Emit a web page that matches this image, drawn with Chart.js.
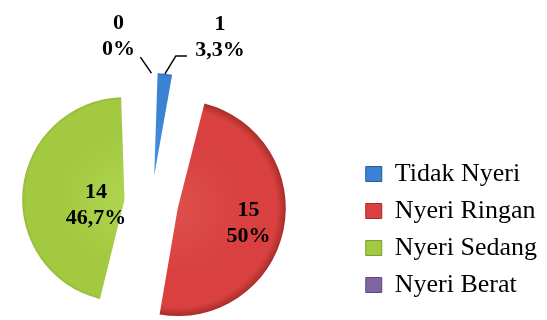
<!DOCTYPE html>
<html lang="id">
<head>
    <meta charset="UTF-8">
    <title>Tingkat Nyeri</title>
    <script src="https://cdn.jsdelivr.net/npm/chart.js"></script>
    <style>
        html, body { margin: 0; padding: 0; background: #ffffff; }
        .chart-container { width: 547px; height: 320px; position: relative; }
    </style>
</head>
<body>
    <div class="chart-container">
        <canvas id="nyeriChart"></canvas>
    </div>

    <script>
        // Data
        var categories = ['Tidak Nyeri', 'Nyeri Ringan', 'Nyeri Sedang', 'Nyeri Berat'];
        var values = [1, 15, 14, 0];

        // Warna
        var baseColors = ['#3b82d4', '#d8413f', '#a2c93f', '#8064a2'];
        var lightColors = ['#4f93e0', '#de4f4c', '#b0d452', '#9a80bb'];
        var darkColors = ['#25599c', '#a92c29', '#7a9f2a', '#5f4a7c'];

        var total = values.reduce(function (a, b) { return a + b; }, 0);

        function pctText(v) {
            var p = (v / total * 100).toFixed(1);
            if (p.slice(-2) === '.0') p = p.slice(0, -2);
            return p.replace('.', ',') + '%';
        }

        function sliceFill(context) {
            var chart = context.chart;
            var area = chart.chartArea;
            var i = context.dataIndex;
            if (!area) return baseColors[i];
            var cx = (area.left + area.right) / 2;
            var cy = (area.top + area.bottom) / 2;
            var g = chart.ctx.createRadialGradient(cx, cy, 0, cx, cy, 108);
            g.addColorStop(0, lightColors[i]);
            g.addColorStop(0.6, baseColors[i]);
            g.addColorStop(0.92, baseColors[i]);
            g.addColorStop(1, darkColors[i]);
            return g;
        }

        // label tiap irisan: inside = posisi radial, selain itu label di luar dengan garis
        var labelPlace = [
            { dx: 55, dy: -37, line: [[11, -18], [22, -18]] },
            { inside: 0.67, dy: 0 },
            { inside: 0.28, dy: 9 },
            { dx: -33, dy: -37, line: [[-11, -16]] }
        ];

        // geser pusat pie ke kiri (legend tetap di kanan)
        var shiftArea = {
            id: 'shiftArea',
            afterLayout: function (chart) {
                chart.chartArea.left -= 52;
                chart.chartArea.width = chart.chartArea.right - chart.chartArea.left;
            }
        };

        var sliceLabels = {
            id: 'sliceLabels',
            afterDatasetsDraw: function (chart) {
                var ctx = chart.ctx;
                var meta = chart.getDatasetMeta(0);
                var shift = chart.data.datasets[0].offset / 4;
                ctx.save();
                ctx.font = 'bold 22px "Liberation Serif"';
                ctx.textAlign = 'center';
                ctx.textBaseline = 'middle';
                ctx.fillStyle = '#000';
                ctx.strokeStyle = '#000';
                ctx.lineWidth = 1.5;
                meta.data.forEach(function (arc, i) {
                    var mid = (arc.startAngle + arc.endAngle) / 2;
                    var cx = arc.x + Math.cos(mid) * shift;
                    var cy = arc.y + Math.sin(mid) * shift;
                    var circ = arc.endAngle - arc.startAngle;
                    var r = arc.outerRadius + shift * (1 - Math.sin(Math.min(Math.PI, circ)));
                    var pl = labelPlace[i];
                    var lx, ly;
                    if (pl.inside != null) {
                        lx = cx + Math.cos(mid) * r * pl.inside;
                        ly = cy + Math.sin(mid) * r * pl.inside + pl.dy;
                    } else {
                        r = arc.outerRadius + shift * 0.79;
                        var ox = cx + Math.cos(mid) * r;
                        var oy = cy + Math.sin(mid) * r;
                        lx = ox + pl.dx;
                        ly = oy + pl.dy;
                        ctx.beginPath();
                        ctx.moveTo(ox, oy);
                        pl.line.forEach(function (p) { ctx.lineTo(ox + p[0], oy + p[1]); });
                        ctx.stroke();
                    }
                    ctx.fillText(String(values[i]), lx, ly - 13);
                    ctx.fillText(pctText(values[i]), lx, ly + 13);
                });
                ctx.restore();
            }
        };

        var ctx = document.getElementById('nyeriChart').getContext('2d');
        var nyeriChart = new Chart(ctx, {
            type: 'pie',
            data: {
                labels: categories,
                datasets: [{
                    data: values,
                    backgroundColor: sliceFill,
                    borderWidth: 0,
                    offset: 108
                }]
            },
            options: {
                responsive: true,
                maintainAspectRatio: false,
                animation: false,
                radius: 81,
                layout: {
                    padding: { left: 0, right: 0, top: 96, bottom: 11 }
                },
                plugins: {
                    tooltip: { enabled: false },
                    legend: {
                        position: 'right',
                        align: 'end',
                        labels: {
                            color: '#000',
                            font: { family: '"Liberation Serif"', size: 26 },
                            boxWidth: 16,
                            boxHeight: 15,
                            padding: 11,
                            generateLabels: function (chart) {
                                var items = Chart.overrides.pie.plugins.legend.labels.generateLabels(chart);
                                items.forEach(function (it, i) {
                                    it.fillStyle = baseColors[i];
                                    it.strokeStyle = darkColors[i];
                                    it.lineWidth = 1;
                                    it.hidden = false;
                                });
                                return items;
                            }
                        }
                    }
                }
            },
            plugins: [shiftArea, sliceLabels]
        });
    </script>
</body>
</html>
